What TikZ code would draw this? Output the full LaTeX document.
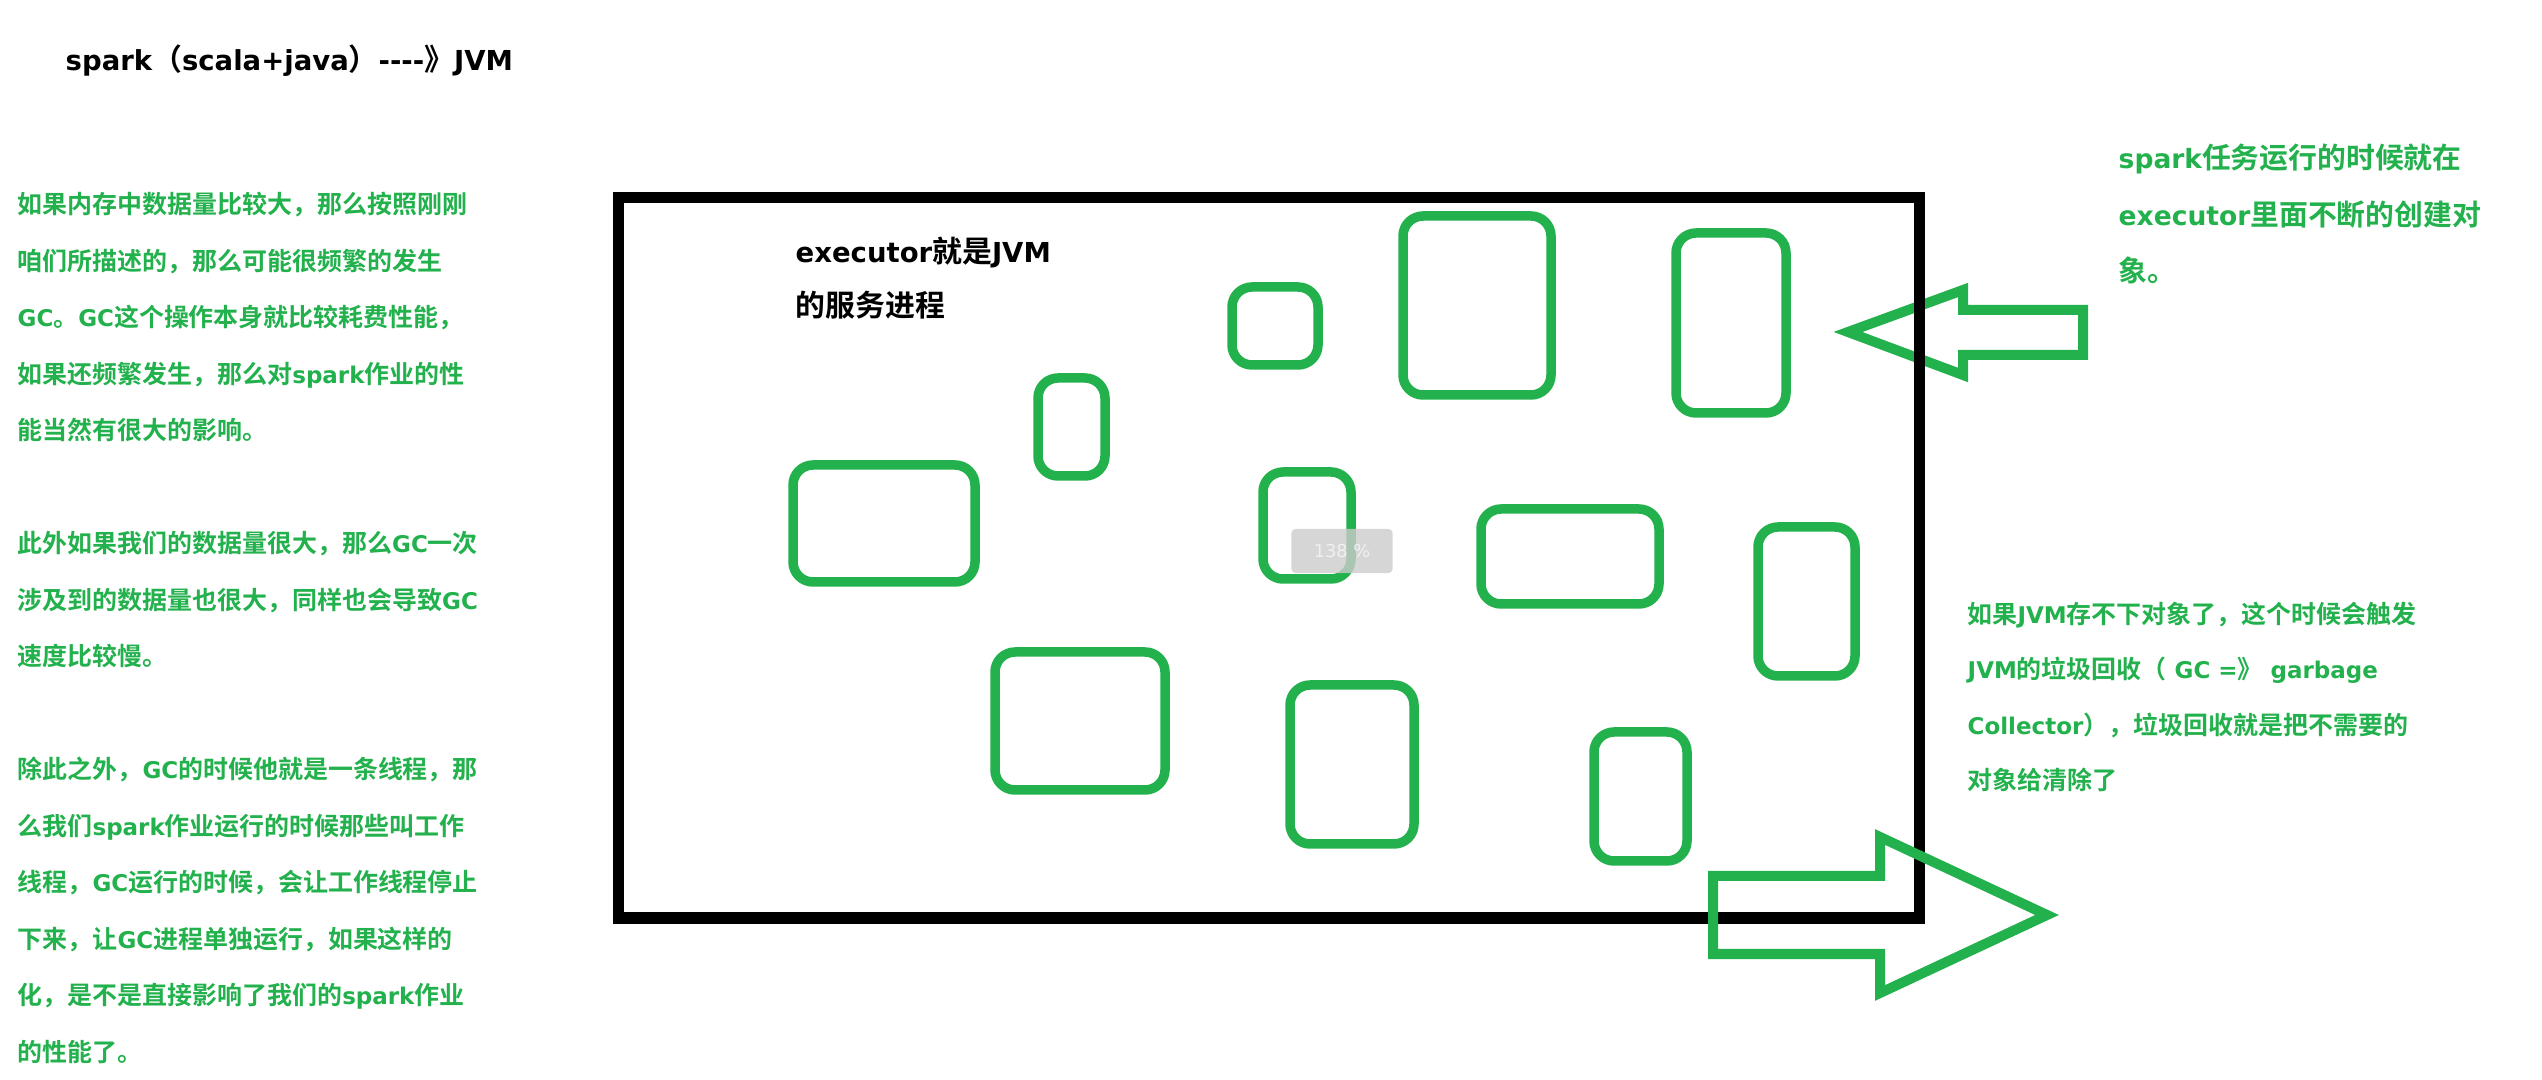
\documentclass[tikz,border=0pt]{standalone}
\usepackage{fontspec}
\setmainfont{Noto Sans CJK SC}[BoldFont={Noto Sans CJK SC Bold}]
\newfontfamily\latinfont{DejaVu Sans}[Scale=0.92,BoldFont={DejaVu Sans Bold}]
\newcommand\lat[1]{{\latinfont\bfseries #1}}
\definecolor{paintgreen}{RGB}{34,177,76}

\begin{document}
\begin{tikzpicture}
      [x=0.01cm,y=-0.01cm,line join=round,
     %the green objects inside the executor
     obj/.style={draw=paintgreen,line width=0.095cm,rounded corners=0.2cm},
     %the hollow block arrows
     blockarrow/.style={draw=paintgreen,line width=0.1cm,line join=miter},
     %green and black texts (anchored at the baseline of the last line)
     note/.style={anchor=base west,inner sep=0pt,align=left,text=paintgreen,
       font=\bfseries\fontsize{7.1}{16.07}\selectfont},
     label/.style={anchor=base west,inner sep=0pt,align=left,
       font=\bfseries\fontsize{8.5}{15.6}\selectfont}]%main layer

\useasboundingbox (0,0) rectangle (2542,1080);

%main layer
%arrow into the executor, under the frame
  \draw[blockarrow] (1848,332) -- (1963,290) -- (1963,310) -- (2083,310)
     -- (2083,355) -- (1963,355) -- (1963,375) -- cycle;

%the executor frame
  \draw[line width=0.11cm,line join=miter] (618,198) rectangle (1919,918);

%the objects
  \foreach \xa/\ya/\xb/\yb in {1232/287/1318/365, 1403/216/1551/395,
      1676/233/1786/413, 1038/378/1105/476, 793/465/975/582,
      1263/472/1351/579, 1481/509/1659/604, 1758/527/1855/676,
      995/652/1165/790, 1290/685/1414/844, 1594/732/1687/861}
    \draw[obj] (\xa,\ya) rectangle (\xb,\yb);

%arrow out of the executor, over the frame
  \draw[blockarrow] (2047,915) -- (1880,837) -- (1880,876) -- (1713,876)
     -- (1713,954) -- (1880,954) -- (1880,993) -- cycle;

%zoom tag of the viewer
  \node[fill=gray!40,opacity=0.8,text opacity=1,text=white!88!gray,
     rounded corners=0.04cm,minimum width=1.01cm,minimum height=0.44cm,
     inner sep=0pt,font=\latinfont\mdseries\fontsize{5.5}{6}\selectfont] (zoomtag) at (1342,551) {138 \%};

%texts
  \node[label] (title) at (65,71) {\lat{spark}（\lat{scala+java}）\lat{-{}-{}-{}-}》\lat{JVM}};
  \node[label] (executor) at (795,317) {\lat{executor}就是\lat{JVM}\\的服务进程};

  \node[note] (gcleft) at (17,1061.5) {如果内存中数据量比较大，那么按照刚刚\\
    咱们所描述的，那么可能很频繁的发生\\
    \lat{GC}。\lat{GC}这个操作本身就比较耗费性能，\\
    如果还频繁发生，那么对\lat{spark}作业的性\\
    能当然有很大的影响。\\[16.07pt]
    此外如果我们的数据量很大，那么\lat{GC}一次\\
    涉及到的数据量也很大，同样也会导致\lat{GC}\\
    速度比较慢。\\[16.07pt]
    除此之外，\lat{GC}的时候他就是一条线程，那\\
    么我们\lat{spark}作业运行的时候那些叫工作\\
    线程，\lat{GC}运行的时候，会让工作线程停止\\
    下来，让\lat{GC}进程单独运行，如果这样的\\
    化，是不是直接影响了我们的\lat{spark}作业\\
    的性能了。};

  \node[note,font=\bfseries\fontsize{8.2}{16.07}\selectfont] (create) at (2118,282)
    {\lat{spark}任务运行的时候就在\\
    \lat{executor}里面不断的创建对\\
    象。};

  \node[note,font=\bfseries\fontsize{7.1}{15.8}\selectfont] (collect) at (1967,790)
    {如果\lat{JVM}存不下对象了，这个时候会触发\\
    \lat{JVM}的垃圾回收（\lat{\ GC =}》\lat{\ garbage}\\
    \lat{Collector}），垃圾回收就是把不需要的\\
    对象给清除了};
\end{tikzpicture}
\end{document}
